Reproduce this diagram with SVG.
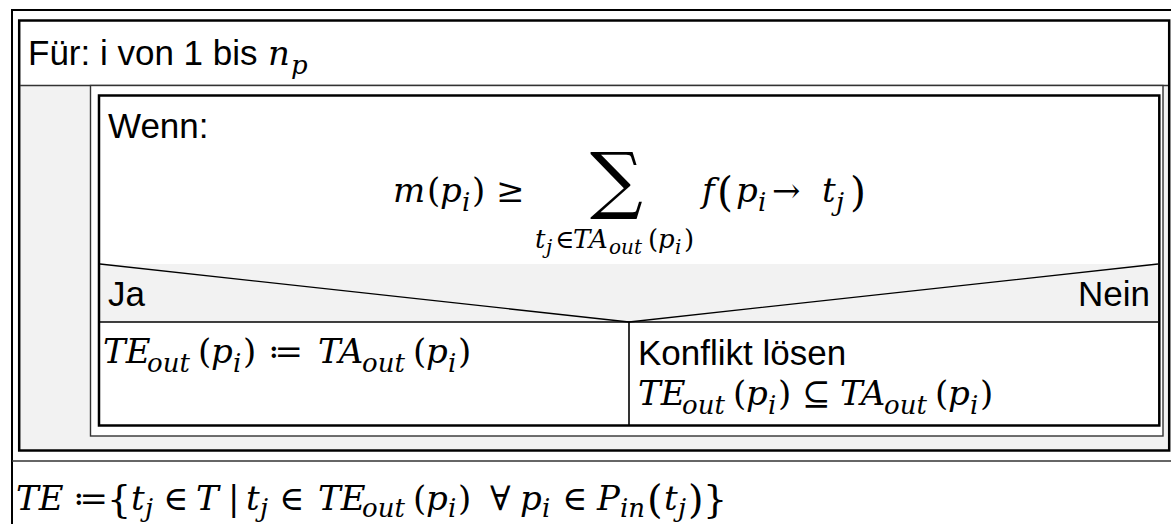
<svg xmlns="http://www.w3.org/2000/svg" width="1171" height="524" viewBox="0 0 1171 524">
<style>
.sans{font-family:"Liberation Sans",Arial,sans-serif;font-size:35px;fill:#000}
.mi{font-family:"DejaVu Serif",serif;font-style:italic;font-size:34px;fill:#000}
.mr{font-family:"DejaVu Serif","DejaVu Sans",serif;font-size:34px;fill:#000}
.si{font-family:"DejaVu Serif",serif;font-style:italic;font-size:26px;fill:#000}
.sr{font-family:"DejaVu Serif","DejaVu Sans",serif;font-size:26px;fill:#000}
.ssi{font-family:"DejaVu Serif",serif;font-style:italic;font-size:20px;fill:#000}
.big{font-size:41px}
.thick{fill:none;stroke:#000;stroke-width:2.5}
.thin{fill:none;stroke:#333;stroke-width:1.4}
.gray{fill:#f2f2f2;stroke:none}
</style>
<rect width="1171" height="524" fill="#fff"/>
<g id="frame">
  <rect x="12" y="10" width="1175" height="530" fill="none" stroke="#000" stroke-width="2"/>
</g>
<g id="loop">
  <rect class="gray" x="20" y="86" width="1148" height="363"/>
  <rect class="thick" x="19.2" y="20.5" width="1150" height="430"/>
  <line class="thin" x1="20" y1="85.5" x2="1168" y2="85.5"/>
  <text class="sans" x="28" y="65">Für: i von 1 bis</text>
  <text class="mi" x="268" y="65">n</text>
  <text class="si" x="291" y="74">p</text>
</g>
<g id="if">
  <rect x="90.5" y="85.5" width="1072.5" height="350.5" fill="#fff" stroke="#333" stroke-width="1.4"/>
  <rect class="gray" x="100" y="264" width="1058" height="58"/>
  <rect class="thick" x="99" y="95.5" width="1060.3" height="330"/>
  <polyline points="100,264 629,322 1158,264" fill="none" stroke="#000" stroke-width="1.3"/>
  <line x1="100" y1="322" x2="1158" y2="322" stroke="#000" stroke-width="1.6"/>
  <line x1="629" y1="322" x2="629" y2="425" stroke="#000" stroke-width="1.6"/>
  <text class="sans" x="108" y="138">Wenn:</text>
  <text class="mi" x="393" y="202">m</text>
  <text class="mr" x="427" y="202">(</text>
  <text class="mi" x="440" y="202">p</text>
  <text class="si" x="462" y="211">i</text>
  <text class="mr" x="472" y="202">)</text>
  <text class="mr" x="496" y="202">≥</text>
  <text class="mr" x="590" y="205" style="font-size:74px">∑</text>
  <text class="si" x="535" y="248">t</text>
  <text class="ssi" x="546" y="254">j</text>
  <text class="sr" x="555" y="248">∈</text>
  <text class="si" x="573" y="248">TA</text>
  <text class="ssi" x="609" y="254">out</text>
  <text class="sr" x="648" y="248">(</text>
  <text class="si" x="658" y="248">p</text>
  <text class="ssi" x="675" y="254">i</text>
  <text class="sr" x="684" y="248">)</text>
  <text class="mi" x="702" y="202">f</text>
  <text class="mr big" x="717" y="206">(</text>
  <text class="mi" x="736" y="202">p</text>
  <text class="si" x="758" y="211">i</text>
  <text class="mr" x="772" y="202">→</text>
  <text class="mi" x="822" y="202">t</text>
  <text class="si" x="836" y="211">j</text>
  <text class="mr big" x="850" y="206">)</text>
  <text class="sans" x="108" y="306">Ja</text>
  <text class="sans" x="1150" y="306" text-anchor="end">Nein</text>
</g>
<g id="yes">
  <text class="mi" x="103" y="363">TE</text>
  <text class="si" x="147" y="372">out</text>
  <text class="mr" x="198" y="363">(</text>
  <text class="mi" x="211" y="363">p</text>
  <text class="si" x="233" y="372">i</text>
  <text class="mr" x="243" y="363">)</text>
  <text class="mr" x="268" y="363">≔</text>
  <text class="mi" x="318" y="363">TA</text>
  <text class="si" x="362" y="372">out</text>
  <text class="mr" x="413" y="363">(</text>
  <text class="mi" x="426" y="363">p</text>
  <text class="si" x="448" y="372">i</text>
  <text class="mr" x="458" y="363">)</text>
</g>
<g id="no">
  <text class="sans" x="638" y="365">Konflikt lösen</text>
  <text class="mi" x="638" y="405">TE</text>
  <text class="si" x="682" y="414">out</text>
  <text class="mr" x="733" y="405">(</text>
  <text class="mi" x="746" y="405">p</text>
  <text class="si" x="768" y="414">i</text>
  <text class="mr" x="778" y="405">)</text>
  <text class="mr" x="802" y="405">⊆</text>
  <text class="mi" x="840" y="405">TA</text>
  <text class="si" x="884" y="414">out</text>
  <text class="mr" x="935" y="405">(</text>
  <text class="mi" x="948" y="405">p</text>
  <text class="si" x="970" y="414">i</text>
  <text class="mr" x="980" y="405">)</text>
</g>
<g id="statement">
  <line x1="12" y1="461" x2="1171" y2="461" stroke="#333" stroke-width="1.4"/>
  <text class="mi" x="16" y="510">TE</text>
  <text class="mr" x="73" y="510">≔</text>
  <text class="mr" x="107" y="512" style="font-size:38px">{</text>
  <text class="mi" x="131" y="510">t</text>
  <text class="si" x="145" y="517">j</text>
  <text class="mr" x="163" y="510">∈</text>
  <text class="mi" x="196" y="510">T</text>
  <text class="mr" x="228" y="510">|</text>
  <text class="mi" x="246" y="510">t</text>
  <text class="si" x="260" y="517">j</text>
  <text class="mr" x="279" y="510">∈</text>
  <text class="mi" x="318" y="510">TE</text>
  <text class="si" x="362" y="517">out</text>
  <text class="mr" x="413" y="510">(</text>
  <text class="mi" x="426" y="510">p</text>
  <text class="si" x="448" y="517">i</text>
  <text class="mr" x="458" y="510">)</text>
  <text class="mr" x="490" y="510">∀</text>
  <text class="mi" x="520" y="510">p</text>
  <text class="si" x="542" y="517">i</text>
  <text class="mr" x="562" y="510">∈</text>
  <text class="mi" x="597" y="510">P</text>
  <text class="si" x="620" y="517">in</text>
  <text class="mr" x="647" y="513" style="font-size:40px">(</text>
  <text class="mi" x="664" y="510">t</text>
  <text class="si" x="678" y="517">j</text>
  <text class="mr" x="688" y="513" style="font-size:40px">)</text>
  <text class="mr" x="703" y="512" style="font-size:38px">}</text>
</g>
<g id="connectors"/>
</svg>
